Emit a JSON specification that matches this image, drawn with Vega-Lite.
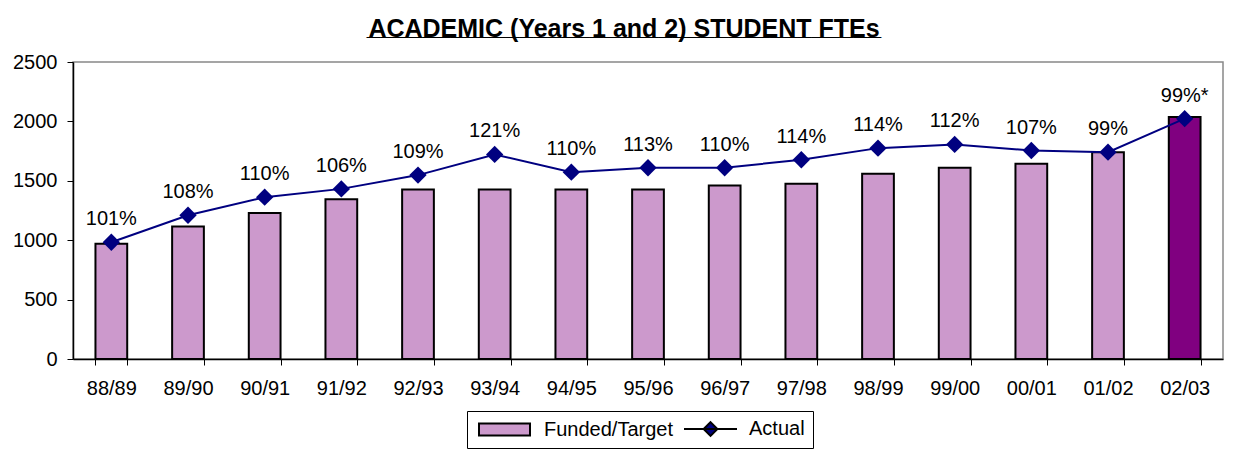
{
  "$schema": "https://vega.github.io/schema/vega-lite/v6.json",
  "autosize": "none",
  "width": 1150,
  "height": 297,
  "padding": {"left": 73, "top": 62, "right": 15, "bottom": 94},
  "background": "white",
  "title": {
    "text": "ACADEMIC (Years 1 and 2) STUDENT FTEs",
    "subtitle": "_____________________________________",
    "font": "Liberation Sans",
    "fontSize": 25,
    "fontWeight": "bold",
    "color": "black",
    "subtitleFont": "Liberation Sans",
    "subtitleFontSize": 25,
    "subtitleFontWeight": "bold",
    "subtitleColor": "black",
    "subtitlePadding": -27,
    "anchor": "middle",
    "dx": -24,
    "offset": 8
  },
  "data": {
    "values": [
      {"year": "88/89", "funded": 970, "actual": 983, "label": "101%", "cat": "Funded/Target"},
      {"year": "89/90", "funded": 1115, "actual": 1210, "label": "108%", "cat": "Funded/Target"},
      {"year": "90/91", "funded": 1230, "actual": 1362, "label": "110%", "cat": "Funded/Target"},
      {"year": "91/92", "funded": 1345, "actual": 1432, "label": "106%", "cat": "Funded/Target"},
      {"year": "92/93", "funded": 1427, "actual": 1548, "label": "109%", "cat": "Funded/Target"},
      {"year": "93/94", "funded": 1427, "actual": 1722, "label": "121%", "cat": "Funded/Target"},
      {"year": "94/95", "funded": 1427, "actual": 1573, "label": "110%", "cat": "Funded/Target"},
      {"year": "95/96", "funded": 1427, "actual": 1610, "label": "113%", "cat": "Funded/Target"},
      {"year": "96/97", "funded": 1461, "actual": 1610, "label": "110%", "cat": "Funded/Target"},
      {"year": "97/98", "funded": 1475, "actual": 1677, "label": "114%", "cat": "Funded/Target"},
      {"year": "98/99", "funded": 1559, "actual": 1775, "label": "114%", "cat": "Funded/Target"},
      {"year": "99/00", "funded": 1610, "actual": 1806, "label": "112%", "cat": "Funded/Target"},
      {"year": "00/01", "funded": 1643, "actual": 1755, "label": "107%", "cat": "Funded/Target"},
      {"year": "01/02", "funded": 1741, "actual": 1741, "label": "99%", "cat": "Funded/Target"},
      {"year": "02/03", "funded": 2036, "actual": 2023, "label": "99%*", "cat": "Projected"}
    ]
  },
  "encoding": {
    "x": {
      "field": "year",
      "type": "ordinal",
      "sort": null,
      "scale": {"paddingInner": 0.586, "paddingOuter": 0.293},
      "axis": {
        "title": null,
        "labelAngle": 0,
        "labelFont": "Liberation Sans",
        "labelFontSize": 20,
        "labelColor": "black",
        "labelPadding": 13,
        "tickBand": "extent",
        "tickSize": 6,
        "tickColor": "black",
        "domainColor": "black",
        "domainWidth": 1.5,
        "tickWidth": 1
      }
    }
  },
  "layer": [
    {
      "mark": {"type": "bar", "stroke": "black", "strokeWidth": 2},
      "encoding": {
        "y": {
          "field": "funded",
          "type": "quantitative",
          "scale": {"domain": [0, 2500], "nice": false},
          "axis": {
            "title": null,
            "values": [0, 500, 1000, 1500, 2000, 2500],
            "format": "d",
            "grid": false,
            "labelFont": "Liberation Sans",
            "labelFontSize": 20,
            "labelColor": "black",
            "labelPadding": 10,
            "tickSize": 6,
            "tickColor": "black",
            "domainColor": "black",
            "domainWidth": 1.5
          }
        },
        "fill": {
          "field": "cat",
          "type": "nominal",
          "scale": {
            "domain": ["Funded/Target", "Actual", "Projected"],
            "range": ["#CC99CC", "#000080", "#800080"]
          },
          "legend": {
            "title": null,
            "values": ["Funded/Target", "Actual"],
            "orient": "none",
            "legendX": 394,
            "legendY": 349,
            "direction": "horizontal",
            "strokeColor": "black",
            "fillColor": "white",
            "padding": 8,
            "labelFont": "Liberation Sans",
            "labelFontSize": 20,
            "labelColor": "black",
            "labelOffset": 49,
            "columnPadding": 7,
            "symbolSize": 144,
            "symbolOpacity": 1,
            "symbolStrokeWidth": 2,
            "encode": {
              "symbols": {
                "update": {
                  "stroke": {"signal": "datum.value === 'Actual' ? '#000080' : 'black'"},
                  "strokeWidth": {"value": 2}
                }
              }
            }
          }
        }
      }
    },
    {
      "mark": {"type": "point", "opacity": 0, "filled": true, "size": 1},
      "encoding": {
        "y": {"field": "funded", "type": "quantitative"},
        "shape": {
          "field": "cat",
          "type": "nominal",
          "scale": {
            "domain": ["Funded/Target", "Actual", "Projected"],
            "range": ["M-1,-1H7.5V1H-1Z", "M-1,0H7.83M3.42,-1.15L4.57,0L3.42,1.15L2.27,0Z", "M-1,-1H7.5V1H-1Z"]
          },
          "legend": {
            "title": null,
            "values": ["Funded/Target", "Actual"],
            "orient": "none",
            "legendX": 394,
            "legendY": 349,
            "direction": "horizontal",
            "strokeColor": "black",
            "fillColor": "white",
            "padding": 8,
            "labelFont": "Liberation Sans",
            "labelFontSize": 20,
            "labelColor": "black",
            "labelOffset": 49,
            "columnPadding": 7,
            "symbolSize": 144,
            "symbolOpacity": 1,
            "symbolStrokeWidth": 2,
            "encode": {
              "symbols": {
                "update": {
                  "stroke": {"signal": "datum.value === 'Actual' ? '#000080' : 'black'"},
                  "strokeWidth": {"value": 2}
                }
              }
            }
          }
        }
      }
    },
    {
      "mark": {"type": "line", "color": "#000080", "strokeWidth": 2},
      "encoding": {
        "y": {"field": "actual", "type": "quantitative"}
      }
    },
    {
      "mark": {"type": "point", "shape": "diamond", "filled": true, "color": "#000080", "size": 300, "opacity": 1},
      "encoding": {
        "y": {"field": "actual", "type": "quantitative"}
      }
    },
    {
      "mark": {"type": "text", "dy": -23, "font": "Liberation Sans", "fontSize": 20, "color": "black"},
      "encoding": {
        "y": {"field": "actual", "type": "quantitative"},
        "text": {"field": "label"}
      }
    }
  ],
  "config": {
    "view": {"stroke": "#888888", "strokeWidth": 1.5},
    "axis": {"grid": false}
  }
}
